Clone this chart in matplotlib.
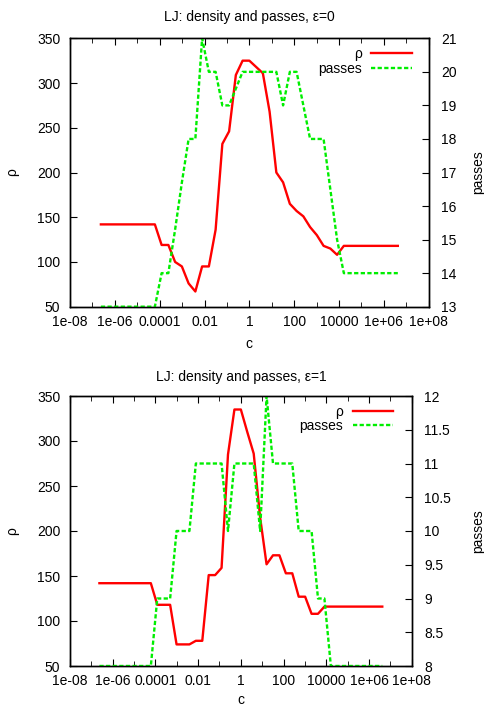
import numpy as np
import matplotlib
matplotlib.use('Agg')
import matplotlib.pyplot as plt
from matplotlib.ticker import FixedLocator, FixedFormatter, NullFormatter, FormatStrFormatter

plt.rcParams['font.family'] = ['Liberation Sans', 'DejaVu Sans']
plt.rcParams['font.size'] = 10

# sample grid: c = 2^k
k = np.arange(-22, 23)
c = 2.0 ** k

# eps = 0
rho0 = [142, 142, 142, 142, 142, 142, 142, 142, 142,
        119, 119, 100, 95, 76, 67, 95, 95, 136, 232, 246, 309, 325, 325,
        318, 311, 268, 200, 189, 165, 157, 151, 139, 130, 118, 115, 108,
        118, 118, 118, 118, 118, 118, 118, 118, 118]
passes0 = [13, 13, 13, 13, 13, 13, 13, 13, 13,
           14, 14, 15.3, 16.7, 18, 18, 21, 20, 20, 19, 19, 19.5, 20, 20,
           20, 20, 20, 20, 19, 20, 20, 19, 18, 18, 18, 16.5, 15,
           14, 14, 14, 14, 14, 14, 14, 14, 14]

# eps = 1
rho1 = [142, 142, 142, 142, 142, 142, 142, 142, 142,
        118, 118, 118, 74, 74, 74, 78, 78, 151, 151, 159, 285, 335, 335,
        310, 286, 215, 163, 173, 173, 153, 153, 127, 127, 108, 108, 116,
        116, 116, 116, 116, 116, 116, 116, 116, 116]
passes1 = [8, 8, 8, 8, 8, 8, 8, 8, 8,
           9, 9, 9, 10, 10, 10, 11, 11, 11, 11, 11, 10, 11, 11,
           11, 11, 10, 12, 11, 11, 11, 11, 10, 10, 10, 9, 9,
           8, 8, 8, 8, 8, 8, 8, 8, 8]

xmajor = [1e-8, 1e-6, 1e-4, 1e-2, 1, 1e2, 1e4, 1e6, 1e8]
xminor = [1e-7, 1e-5, 1e-3, 1e-1, 1e1, 1e3, 1e5, 1e7]
xlabels = ['1e-08', '1e-06', '0.0001', '0.01', '1', '100', '10000', '1e+06', '1e+08']

W, H = 484, 706
fig = plt.figure(figsize=(W / 100, H / 100), dpi=100)


def panel(rect, rho, passes, y2lim, y2step, title, tpad, leg_x, cy, rhox, passx):
    ax = fig.add_axes(rect)
    ax2 = ax.twinx()
    l1, = ax.plot(c, rho, color='#ff0000', lw=1.7, label='ρ')
    l2, = ax2.plot(c, passes, color='#00ee00', lw=1.7, dashes=(1.8, 1.0), label='passes')
    ax.set_xscale('log')
    ax.set_xlim(1e-8, 1e8)
    ax.set_ylim(50, 350)
    ax.set_yticks(np.arange(50, 351, 50))
    ax2.set_ylim(*y2lim)
    ax2.set_yticks(np.arange(y2lim[0], y2lim[1] + 1e-9, y2step))
    ax2.yaxis.set_major_formatter(FormatStrFormatter('%g'))
    ax.xaxis.set_major_locator(FixedLocator(xmajor))
    ax.xaxis.set_major_formatter(FixedFormatter(xlabels))
    ax.xaxis.set_minor_locator(FixedLocator(xminor))
    ax.xaxis.set_minor_formatter(NullFormatter())
    ax.tick_params(axis='x', which='both', direction='in', top=True, pad=6)
    ax.tick_params(axis='x', which='major', length=5)
    ax.tick_params(axis='x', which='minor', length=3.5)
    ax.tick_params(axis='y', direction='in', length=5, pad=7, right=False)
    ax2.tick_params(axis='y', direction='in', length=5, pad=9)
    for a in (ax, ax2):
        for s in a.spines.values():
            s.set_linewidth(1.0)
    ax.set_title(title, pad=tpad, fontsize=10)
    ax.text(0.5, cy, 'c', transform=ax.transAxes, ha='center', va='baseline')
    ax.text(rhox, 0.5, 'ρ', transform=ax.transAxes, rotation=90, ha='center', va='center')
    ax.text(passx, 0.5, 'passes', transform=ax.transAxes, rotation=90, ha='center', va='center')
    ax2.legend([l1, l2], ['ρ', 'passes'], loc='upper right', bbox_to_anchor=(leg_x, 0.968),
               frameon=False, markerfirst=False, borderpad=0, borderaxespad=0,
               handlelength=2.9, handletextpad=0.7, labelspacing=0.05)
    return ax


# top panel: axes x 70..428.7, y 38.3..306.7 px
panel([70 / W, 1 - 306.7 / H, 358.7 / W, 268.4 / H], rho0, passes0, (13, 21), 1,
      'LJ: density and passes, ε=0', 12.5, (411.7 - 70) / 358.7, -0.153,
      (12 - 70) / 358.7, (478.5 - 70) / 358.7)

# bottom panel: axes x 70..411.7, y 396..666 px
panel([70 / W, 1 - 666 / H, 341.7 / W, 270 / H], rho1, passes1, (8, 12), 0.5,
      'LJ: density and passes, ε=1', 11, (393.3 - 70) / 341.7, -0.141,
      (12 - 70) / 341.7, (478.5 - 70) / 341.7)

fig.savefig('out.png', dpi=100)
